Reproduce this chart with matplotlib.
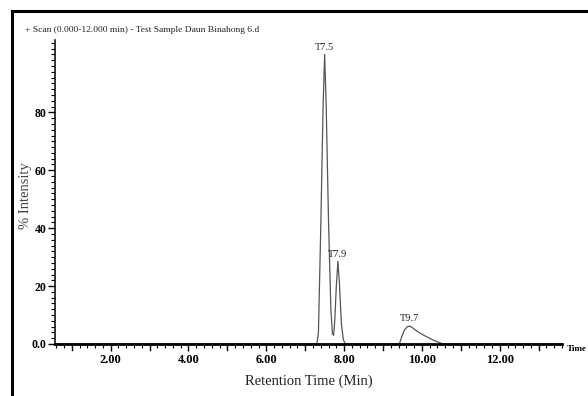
import matplotlib
matplotlib.use("Agg")
import matplotlib.pyplot as plt
import numpy as np
from matplotlib.lines import Line2D
from matplotlib.ticker import MultipleLocator, FixedLocator

# chromatogram trace (retention time in min, % intensity)
ret_time = [0.57, 7.30, 7.34, 7.40, 7.46, 7.50, 7.54, 7.60, 7.66, 7.70, 7.73,
            7.76, 7.80, 7.84, 7.88, 7.93, 7.98, 8.03, 9.42, 9.48, 9.55, 9.62,
            9.69, 9.76, 9.85, 9.95, 10.05, 10.15, 10.25, 10.35, 10.45, 10.55, 13.6]
intensity = [0.0, 0.0, 4.0, 40.0, 82.0, 100.0, 82.0, 42.0, 12.0, 3.5, 3.0,
             8.0, 20.0, 28.5, 21.0, 7.0, 1.5, 0.0, 0.0, 2.5, 4.8, 5.9,
             6.2, 5.6, 4.6, 3.8, 3.0, 2.3, 1.6, 1.0, 0.5, 0.0, 0.0]

peak_names = ["T7.5", "T7.9", "T9.7"]
peak_time = [7.50, 7.84, 9.69]
peak_top = [100.0, 28.5, 6.2]

y_ticks = [0, 20, 40, 60, 80]
y_labels = ["0.0", "20", "40", "60", "80"]
x_ticks = [2, 4, 6, 8, 10, 12]
x_labels = ["2.00", "4.00", "6.00", "8.00", "10.00", "12.00"]

plt.rcParams['font.family'] = ['Liberation Serif', 'DejaVu Serif']

W, H = 588, 396
fig = plt.figure(figsize=(W / 100, H / 100), dpi=100)
ax = fig.add_axes([55 / W, 1 - 344 / H, (562 - 55) / W, (344 - 40) / H])

ax.plot(ret_time, intensity, color="#555555", lw=0.9)

for name, t, top in zip(peak_names, peak_time, peak_top):
    ax.annotate(name, (t, top), xytext=(0, 2), textcoords="offset points",
                ha="center", va="bottom", fontsize=7.5, color="#222222")

ax.set_xlim(0.57, 13.6)
ax.set_ylim(0, 105)

ax.spines["top"].set_visible(False)
ax.spines["right"].set_visible(False)
ax.spines["bottom"].set_linewidth(2.0)
ax.spines["left"].set_linewidth(1.1)

ax.xaxis.set_major_locator(FixedLocator(x_ticks))
ax.set_xticklabels(x_labels, fontsize=9, fontweight="bold")
ax.xaxis.set_minor_locator(MultipleLocator(0.2))
ax.tick_params(axis="x", which="major", length=5, width=1.0, pad=2)
ax.tick_params(axis="x", which="minor", length=3, width=0.8)
# longer ticks at odd minutes
for t in range(1, 14, 2):
    ax.plot([t, t], [0, -2.0], color="black", lw=1.0, clip_on=False)

ax.yaxis.set_major_locator(FixedLocator(y_ticks))
ax.set_yticklabels(y_labels, fontsize=8.5, fontweight="bold")
ax.yaxis.set_minor_locator(MultipleLocator(2))
ax.tick_params(axis="y", which="major", length=5, width=1.0, pad=1)
ax.tick_params(axis="y", which="minor", length=3, width=0.8)

ax.set_xlabel("Retention Time (Min)", fontsize=10.5, color="#222222")
ax.xaxis.set_label_coords(0.5, -(375 - 344) / (344 - 40), transform=ax.transAxes)
ax.set_ylabel("% Intensity", fontsize=10.5, color="#444444")
ax.yaxis.set_label_coords(-(55 - 32) / (562 - 55), (344 - 196) / (344 - 40),
                          transform=ax.transAxes)

fig.text(25 / W, 1 - 30 / H, "+ Scan (0.000-12.000 min) - Test Sample Daun Binahong 6.d",
         fontsize=6.8, ha="left", va="center", color="#222222")
fig.text(587 / W, 1 - 349 / H, "Time", fontsize=6.5, fontweight="bold",
         ha="right", va="center")

# outer frame (only top and left edges fall inside the picture)
fig.add_artist(Line2D([12 / W, 1.0], [1 - 11 / H, 1 - 11 / H], color="black", lw=2.2))
fig.add_artist(Line2D([12 / W, 12 / W], [0.0, 1 - 11 / H], color="black", lw=2.2))

fig.savefig("out.png", dpi=100)
